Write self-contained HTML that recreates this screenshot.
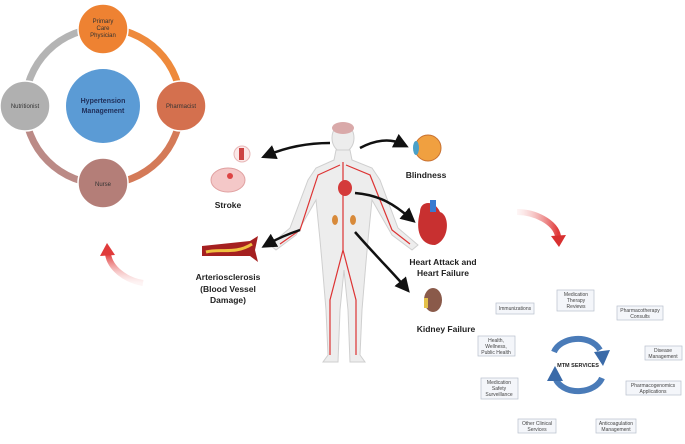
<!DOCTYPE html>
<html><head><meta charset="utf-8"><style>
html,body{margin:0;padding:0;background:#fff;}
svg{display:block;font-family:"Liberation Sans",Arial,sans-serif;}
.b{font-weight:bold;fill:#222;}
.bx{fill:#f4f6fa;stroke:#b8c0cc;stroke-width:0.7;}
.s{font-size:5px;fill:#444;text-anchor:middle;}
</style></head><body>
<svg width="685" height="444" viewBox="0 0 685 444">
<defs>
<linearGradient id="rg" x1="0" y1="1" x2="0" y2="0"><stop offset="0" stop-color="#f6c8c8" stop-opacity="0.2"/><stop offset="1" stop-color="#e03a3a"/></linearGradient>
<linearGradient id="rg2" x1="0" y1="0" x2="1" y2="0"><stop offset="0" stop-color="#f8d0d0" stop-opacity="0.2"/><stop offset="1" stop-color="#e03a3a"/></linearGradient>
<marker id="ah" markerWidth="6" markerHeight="6" refX="3" refY="3" orient="auto"><path d="M0,0 L6,3 L0,6 Z" fill="#111"/></marker>
</defs>
<!-- ring -->
<path d="M103,28 A78,78 0 0 1 181,106" fill="none" stroke="#ee8a3c" stroke-width="7"/>
<path d="M181,106 A78,78 0 0 1 103,184" fill="none" stroke="#d47a58" stroke-width="7"/>
<path d="M103,184 A78,78 0 0 1 25,106" fill="none" stroke="#bb8a86" stroke-width="7"/>
<path d="M25,106 A78,78 0 0 1 103,28" fill="none" stroke="#b4b4b4" stroke-width="7"/>
<circle cx="103" cy="29" r="25" fill="#ee8232" stroke="#fff" stroke-width="1.5"/>
<circle cx="181" cy="106" r="25" fill="#d4704e" stroke="#fff" stroke-width="1.5"/>
<circle cx="103" cy="183" r="25" fill="#b47e78" stroke="#fff" stroke-width="1.5"/>
<circle cx="25" cy="106" r="25" fill="#b0b0b0" stroke="#fff" stroke-width="1.5"/>
<circle cx="103" cy="106" r="37" fill="#5b9bd5"/>
<g font-size="6" fill="#333" text-anchor="middle">
<text x="103" y="23">Primary</text><text x="103" y="30">Care</text><text x="103" y="37">Physician</text>
<text x="181" y="108">Pharmacist</text><text x="103" y="186">Nurse</text><text x="25" y="108">Nutritionist</text>
</g>
<text x="103" y="103" font-size="7" font-weight="bold" fill="#1f2f5a" text-anchor="middle">Hypertension</text>
<text x="103" y="113" font-size="7" font-weight="bold" fill="#1f2f5a" text-anchor="middle">Management</text>
<!-- red arrows -->
<path d="M143,283 C125,280 110,268 108,254" fill="none" stroke="url(#rg)" stroke-width="6"/>
<path d="M100,256 L107,243 L115,255 Z" fill="#e03a3a"/>
<path d="M517,212 C535,212 555,222 558,236" fill="none" stroke="url(#rg2)" stroke-width="6"/>
<path d="M551,236 L559,247 L566,235 Z" fill="#d83030"/>
<!-- body -->
<g fill="#ededed" stroke="#cfcfcf" stroke-width="1">
<ellipse cx="343" cy="138" rx="11" ry="14"/>
<path d="M336,150 L350,150 L352,160 L372,168 L380,180 L398,228 L418,245 L412,250 L392,235 L372,200 L368,240 L366,262 L362,310 L360,355 L365,362 L350,362 L348,310 L344,270 L340,310 L338,362 L323,362 L328,355 L326,310 L322,262 L320,240 L316,200 L296,235 L276,250 L270,245 L290,228 L308,180 L316,168 L334,160 Z"/>
</g>
<ellipse cx="343" cy="128" rx="11" ry="6" fill="#d9a9a9"/>
<g stroke="#d33" stroke-width="1.2" fill="none">
<path d="M343,162 L343,250 L330,300 L330,355"/><path d="M343,250 L356,300 L356,355"/>
<path d="M340,165 L318,175 L300,230 L280,244"/><path d="M346,165 L370,175 L392,230 L410,244"/>
</g>
<ellipse cx="345" cy="188" rx="7" ry="8" fill="#d43a3a"/>
<ellipse cx="335" cy="220" rx="3" ry="5" fill="#d88a3a"/><ellipse cx="353" cy="220" rx="3" ry="5" fill="#d88a3a"/>
<!-- black arrows -->
<g stroke="#111" stroke-width="2.5" fill="none" marker-end="url(#ah)">
<path d="M330,143 C300,143 280,150 268,155"/>
<path d="M360,148 C375,140 390,138 402,144"/>
<path d="M355,193 C380,195 395,205 410,218"/>
<path d="M300,230 C285,235 275,240 268,244"/>
<path d="M355,232 C375,255 395,275 405,287"/>
</g>
<!-- organs -->
<circle cx="242" cy="154" r="8" fill="#fbe8e8" stroke="#e8b8b8"/><rect x="239" y="148" width="5" height="12" fill="#c44"/>
<ellipse cx="228" cy="180" rx="17" ry="12" fill="#f4c8c8" stroke="#e0a0a0"/><circle cx="230" cy="176" r="3" fill="#d44"/>
<circle cx="428" cy="148" r="13" fill="#f0a040" stroke="#c87030"/><ellipse cx="416" cy="148" rx="3" ry="7" fill="#4aa0c8"/>
<path d="M420,212 C420,200 435,200 440,212 C450,215 450,240 435,245 C420,245 415,230 420,212 Z" fill="#c83030"/><rect x="430" y="200" width="6" height="12" fill="#3a7ad0"/>
<ellipse cx="433" cy="300" rx="9" ry="12" fill="#8a5a4a"/><rect x="424" y="298" width="4" height="10" fill="#e4c04a"/>
<path d="M202,246 L250,241 L258,236 L255,250 L258,262 L250,256 L202,256 Z" fill="#a52020"/><path d="M206,252 C220,248 235,255 252,244" stroke="#f0c040" stroke-width="3" fill="none"/>
<!-- labels -->
<g font-size="8.5" class="b" text-anchor="middle">
<text x="228" y="208">Stroke</text>
<text x="426" y="178">Blindness</text>
<text x="443" y="265">Heart Attack and</text><text x="443" y="276">Heart Failure</text>
<text x="228" y="280">Arteriosclerosis</text><text x="228" y="292">(Blood Vessel</text><text x="228" y="303">Damage)</text>
<text x="446" y="332">Kidney Failure</text>
</g>
<!-- MTM -->
<path d="M554,352 C560,337 590,333 600,350" fill="none" stroke="#4a7bb8" stroke-width="6"/>
<path d="M594,352 L603,366 L610,350 Z" fill="#3a6aa8"/>
<path d="M602,378 C596,393 566,397 556,380" fill="none" stroke="#4a7bb8" stroke-width="6"/>
<path d="M547,381 L555,366 L563,381 Z" fill="#3a6aa8"/>
<text x="578" y="367" font-size="5.5" font-weight="bold" fill="#222" text-anchor="middle">MTM SERVICES</text>
<rect class="bx" x="496" y="303" width="38" height="11"/><text class="s" x="515" y="310">Immunizations</text>
<rect class="bx" x="557" y="290" width="37" height="21"/><text class="s" x="576" y="296">Medication</text><text class="s" x="576" y="302">Therapy</text><text class="s" x="576" y="308">Reviews</text>
<rect class="bx" x="617" y="306" width="46" height="14"/><text class="s" x="640" y="312">Pharmacotherapy</text><text class="s" x="640" y="318">Consults</text>
<rect class="bx" x="478" y="336" width="37" height="20"/><text class="s" x="496" y="342">Health,</text><text class="s" x="496" y="348">Wellness,</text><text class="s" x="496" y="354">Public Health</text>
<rect class="bx" x="645" y="346" width="37" height="14"/><text class="s" x="663" y="352">Disease</text><text class="s" x="663" y="358">Management</text>
<rect class="bx" x="481" y="378" width="37" height="21"/><text class="s" x="499" y="384">Medication</text><text class="s" x="499" y="390">Safety</text><text class="s" x="499" y="396">Surveillance</text>
<rect class="bx" x="626" y="381" width="55" height="14"/><text class="s" x="653" y="387">Pharmacogenomics</text><text class="s" x="653" y="393">Applications</text>
<rect class="bx" x="518" y="419" width="38" height="14"/><text class="s" x="537" y="425">Other Clinical</text><text class="s" x="537" y="431">Services</text>
<rect class="bx" x="596" y="419" width="40" height="14"/><text class="s" x="616" y="425">Anticoagulation</text><text class="s" x="616" y="431">Management</text>
</svg>
</body></html>
